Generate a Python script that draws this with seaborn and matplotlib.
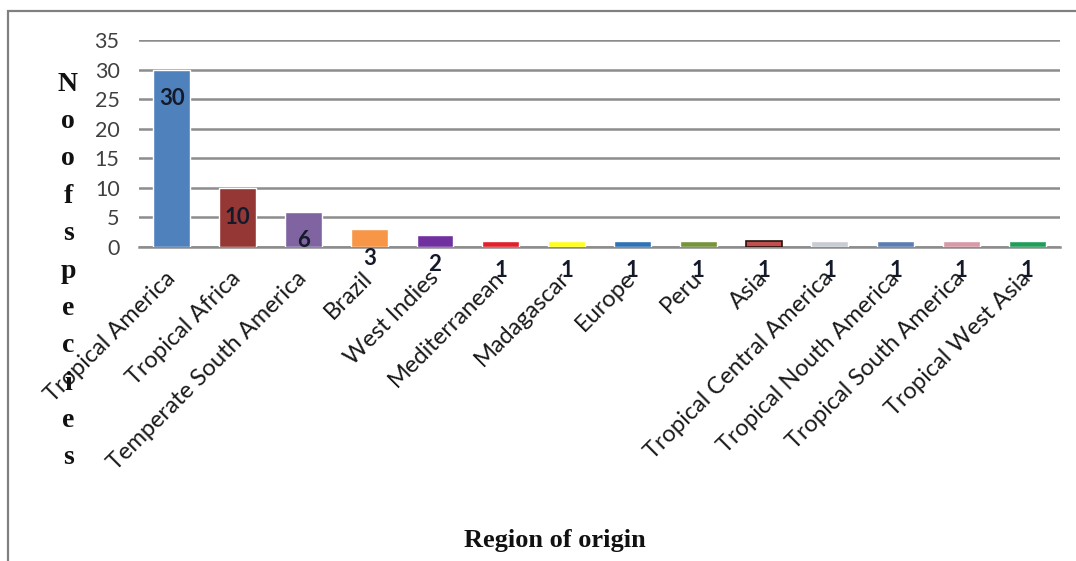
import matplotlib
matplotlib.use("Agg")
import matplotlib.pyplot as plt
from matplotlib.patches import Rectangle
import seaborn as sns

# Number of species by region of origin
regions = [
    "Tropical America", "Tropical Africa", "Temperate South America", "Brazil",
    "West Indies", "Mediterranean", "Madagascar", "Europe", "Peru", "Asia",
    "Tropical Central America", "Tropical Nouth America", "Tropical South America",
    "Tropical West Asia",
]
counts = [30, 10, 6, 3, 2, 1, 1, 1, 1, 1, 1, 1, 1, 1]
bar_colors = [
    "#4F81BD", "#953735", "#8064A2", "#F79646", "#7030A0", "#E0202A", "#FFFF1A",
    "#2E73B5", "#77933C", "#C0504D", "#C8CDD3", "#5B7DB3", "#D79AA6", "#1E9E5A",
]
yticks = [0, 5, 10, 15, 20, 25, 30, 35]

sns.set_theme(style="white")
plt.rcParams["font.family"] = ["Lato", "DejaVu Sans"]

W, H = 1076, 561
fig = plt.figure(figsize=(W / 100, H / 100), dpi=100)
fig.patch.set_facecolor("white")

# outer frame (left and top edges)
fig.add_artist(Rectangle((8 / W, -0.1), 1.2, (H - 11) / H + 0.1,
                         transform=fig.transFigure, fill=False,
                         edgecolor="#808080", linewidth=1.6))

ax = fig.add_axes([139 / W, (H - 247) / H, (1060 - 139) / W, (247 - 40) / H])

sns.barplot(x=regions, y=counts, hue=regions, palette=bar_colors, legend=False,
            width=0.56, saturation=1, ax=ax, zorder=3)

# Asia bar has a dark outline
for p, name in zip(ax.patches, regions):
    if name == "Asia":
        p.set_edgecolor("#2a1010")
        p.set_linewidth(1.2)

ax.set_ylim(0, 35)
ax.set_xlim(-0.5, len(regions) - 0.5)
ax.set_yticks(yticks)
ax.yaxis.grid(True, color="#8c8c8c", linewidth=1.8, zorder=0)
ax.set_axisbelow(True)
for s in ["left", "right", "top"]:
    ax.spines[s].set_visible(False)
ax.spines["bottom"].set_color("#8c8c8c")
ax.spines["bottom"].set_linewidth(1.8)

ax.tick_params(axis="y", length=0, pad=14, labelsize=15.5, labelcolor="#404040")
ax.tick_params(axis="x", length=0, pad=20, labelsize=17, labelcolor="#1a1a1a")
ax.set_xticks(range(len(regions)))
ax.set_xticklabels(regions, rotation=45, ha="right", va="center",
                   rotation_mode="anchor")
ax.set_xlabel("")
ax.set_ylabel("")

# value labels sit just below each bar's top
for i, v in enumerate(counts):
    ax.annotate(str(v), xy=(i, v), xytext=(0, -21), textcoords="offset points",
                ha="center", va="center", fontsize=16, fontweight="bold",
                color="#141a2a", zorder=5)

# axis titles
fig.text(68 / W, 1 - 271 / H, "N\no\no\nf\ns\np\ne\nc\ni\ne\ns",
         ha="center", va="center", fontsize=20, fontweight="bold",
         family=["Liberation Serif", "DejaVu Serif"], linespacing=1.65,
         color="#111111")
fig.text(555 / W, 1 - 540 / H, "Region of origin", ha="center", va="center",
         fontsize=19, fontweight="bold",
         family=["Liberation Serif", "DejaVu Serif"], color="#111111")

fig.savefig("out.png", dpi=100, facecolor="white")
